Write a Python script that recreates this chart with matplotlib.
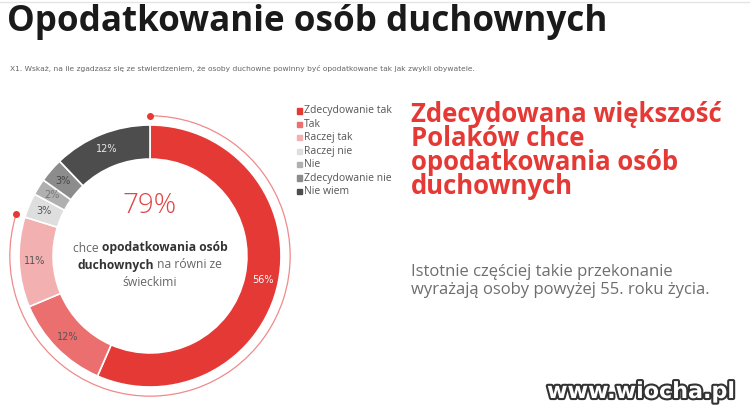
import matplotlib
matplotlib.use('Agg')
import matplotlib.pyplot as plt
import matplotlib.patheffects as pe
from matplotlib.patches import Rectangle, Arc
import numpy as np

# -------------------------------
# Data
# -------------------------------
labels = ['Zdecydowanie tak', 'Tak', 'Raczej tak', 'Raczej nie', 'Nie',
          'Zdecydowanie nie', 'Nie wiem']
values = [56, 12, 11, 3, 2, 3, 12]
colors = ['#e53935', '#ec6f6f', '#f3b0b0', '#dedede', '#b0b0b0', '#8c8c8c', '#4d4d4d']
label_colors = ['white', '#555555', '#555555', '#555555', '#777777', '#444444', '#e8e8e8']
n_yes = 3  # first three categories = "tak"

W, H = 750, 417
fig = plt.figure(figsize=(W / 100, H / 100), dpi=100)
fig.patch.set_facecolor('white')

def px(x, y):
    # pixel coords (from top-left) -> figure fraction
    return x / W, 1 - y / H

# -------------------------------
# Donut
# -------------------------------
cx, cy, R = 150, 256, 131
half = R * 1.1
ax = fig.add_axes([(cx - half) / W, (H - cy - half) / H, 2 * half / W, 2 * half / H])

wedges, _ = ax.pie(values, colors=colors, startangle=90, counterclock=False,
                   radius=1.0, wedgeprops=dict(width=0.26, edgecolor='white', linewidth=1.2))
# pie() sets its own limits, so set them afterwards
ax.set_xlim(-1.1, 1.1)
ax.set_ylim(-1.1, 1.1)
ax.set_aspect('equal')
ax.axis('off')

total = sum(values)
start = 90
for v, lc in zip(values, label_colors):
    mid = start - v / total * 360 / 2
    r = 0.88
    ax.text(r * np.cos(np.radians(mid)), r * np.sin(np.radians(mid)), f'{v}%',
            ha='center', va='center', fontsize=7, color=lc)
    start -= v / total * 360

# outer arc for "tak" share
yes_share = sum(values[:n_yes])
end_angle = 90 - yes_share / total * 360
ra = 1.07
ax.add_patch(Arc((0, 0), 2 * ra, 2 * ra, theta1=end_angle, theta2=90,
                 color='#ef8a8a', lw=0.9))
for a in (90, end_angle):
    ax.plot(ra * np.cos(np.radians(a)), ra * np.sin(np.radians(a)), 'o',
            color='#e53935', ms=4)

ax.text(0, 0.385, f'{yes_share}%', ha='center', va='center',
        fontsize=20, color='#e04545', family='Open Sans', fontweight='light')

# -------------------------------
# Center text with mixed weights
# -------------------------------
center_lines = [
    [('chce ', 'normal'), ('opodatkowania osób', 'bold')],
    [('duchownych', 'bold'), (' na równi ze', 'normal')],
    [('świeckimi', 'normal')],
]
fig.canvas.draw()
renderer = fig.canvas.get_renderer()
line_y = [248, 265, 282]
for parts, yy in zip(center_lines, line_y):
    texts = []
    for s, w in parts:
        t = fig.text(0, 0, s, fontsize=8.7, fontweight=w,
                     color='#333333' if w == 'bold' else '#666666',
                     va='center', ha='left', family='Open Sans')
        texts.append(t)
    widths = [t.get_window_extent(renderer).width for t in texts]
    x0 = cx - sum(widths) / 2
    for t, wd in zip(texts, widths):
        t.set_position(px(x0, yy))
        x0 += wd

# -------------------------------
# Legend
# -------------------------------
for i, (lab, col) in enumerate(zip(labels, colors)):
    yy = 111 + 13.4 * i
    fx, fy = px(297, yy + 2.5)
    fig.patches.append(Rectangle((fx, fy), 5 / W, 5 / H, color=col,
                                 transform=fig.transFigure, figure=fig))
    fig.text(*px(304, yy), lab, fontsize=7.5, color='#555555', va='center',
             ha='left', family='Open Sans')

# -------------------------------
# Titles and side text
# -------------------------------
fig.text(*px(7, 31), 'Opodatkowanie osób duchownych', fontsize=25.2,
         fontweight='bold', color='#1a1a1a', va='baseline', ha='left', family='Open Sans')
fig.text(*px(10, 69), 'X1. Wskaż, na ile zgadzasz się ze stwierdzeniem, że osoby duchowne '
         'powinny być opodatkowane tak jak zwykli obywatele.', fontsize=5.4,
         color='#666666', va='center', ha='left')
fig.text(*px(411, 101), 'Zdecydowana większość\nPolaków chce\nopodatkowania osób\nduchownych',
         fontsize=18.5, fontweight='bold', color='#e53935', va='top', ha='left',
         linespacing=0.86, family='Open Sans')
fig.text(*px(411, 281), 'Istotnie częściej takie przekonanie\nwyrażają osoby powyżej 55. roku życia.',
         fontsize=12, color='#6e6e6e', va='center', ha='left', linespacing=1.2,
         family='Open Sans')

# watermark
fig.text(*px(735, 392), 'www.wiocha.pl', fontsize=16, fontweight='bold', color='white',
         va='center', ha='right', family='DejaVu Sans',
         path_effects=[pe.withStroke(linewidth=3, foreground='#333333')])

# faint top border
fig.add_artist(plt.Line2D([0, 1], [1 - 2 / H, 1 - 2 / H], color='#e5e5e5', lw=1,
                          transform=fig.transFigure))

fig.savefig('out.png', dpi=100)
